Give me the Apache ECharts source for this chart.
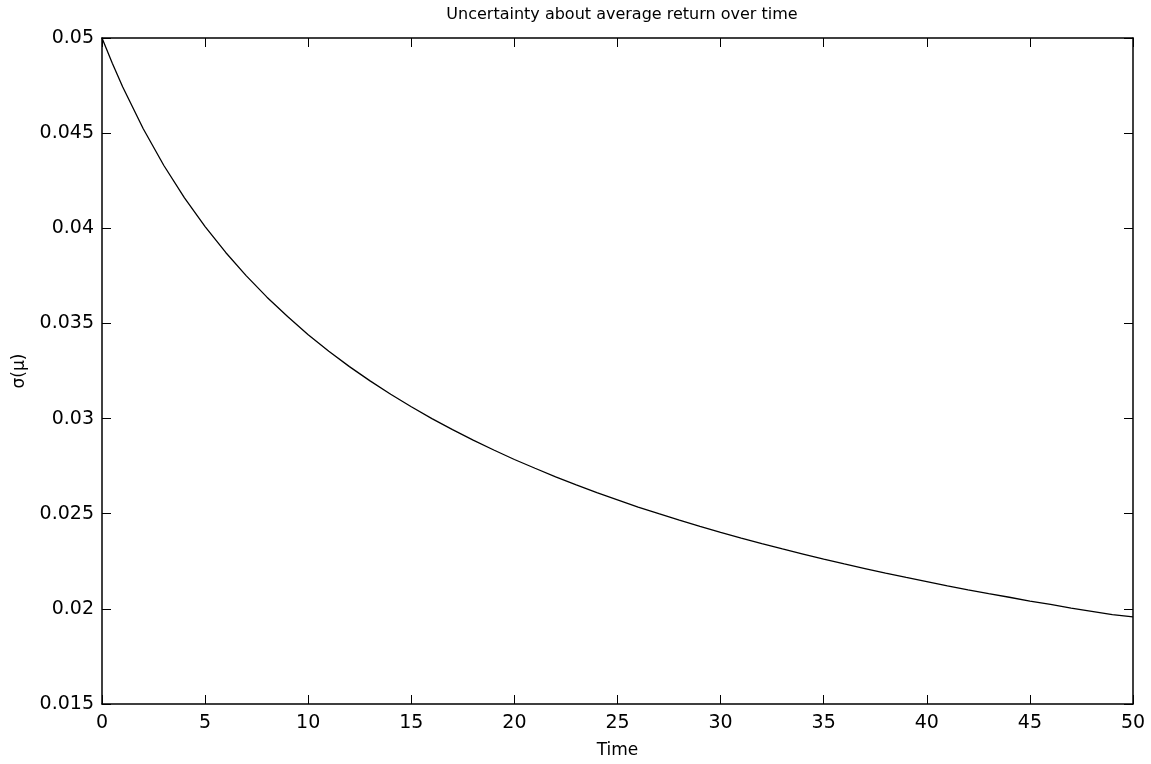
<!DOCTYPE html>
<html>
<head>
<meta charset="utf-8">
<script src="https://cdn.jsdelivr.net/npm/echarts@6/dist/echarts.min.js"></script>
<style>html,body{margin:0;padding:0;background:#fff}#c{width:1151px;height:764px}</style>
</head>
<body>
<div id="c"></div>
<script>
const times = [0,0.5,1,2,3,4,5,6,7,8,9,10,11,12,13,14,15,16,17,18,19,20,21,22,23,24,25,26,27,28,29,30,31,32,33,34,35,36,37,38,39,40,41,42,43,44,45,46,47,48,49,50];
const sigmaMu = [0.05,0.04867,0.04744,0.04523,0.04330,0.04160,0.04009,0.03873,0.03750,0.03638,0.03536,0.03441,0.03354,0.03273,0.03198,0.03128,0.03062,0.03000,0.02942,0.02887,0.02835,0.02785,0.02739,0.02694,0.02652,0.02611,0.02573,0.02535,0.02500,0.02466,0.02433,0.02402,0.02372,0.02343,0.02315,0.02288,0.02261,0.02236,0.02212,0.02188,0.02165,0.02143,0.02121,0.02100,0.02080,0.02061,0.02041,0.02023,0.02004,0.01987,0.01970,0.01958];
const xTicks = [0,5,10,15,20,25,30,35,40,45,50];
const yTicks = [0.015,0.02,0.025,0.03,0.035,0.04,0.045,0.05];

const FONT = '"DejaVu Sans", "Liberation Sans", Arial, sans-serif';
const chart = echarts.init(document.getElementById('c'), null, {renderer:'canvas'});
const axisLine = {show:true, onZero:false, lineStyle:{color:'#000', width:1.5}};
const axisTick = {show:true, inside:true, length:9, lineStyle:{color:'#000', width:1}};
const yFmt = v => { const s = yTicks.find(t => Math.abs(t - v) < 1e-9); return s === undefined ? '' : String(s); };
const xFmt = v => { const s = xTicks.find(t => Math.abs(t - v) < 1e-9); return s === undefined ? '' : String(s); };
chart.setOption({
  animation:false,
  backgroundColor:'#fff',
  title:{text:'Uncertainty about average return over time', left:617, top:2, textAlign:'center',
    textStyle:{fontFamily:FONT, fontSize:16, fontWeight:'normal', color:'#000'}},
  grid:{left:102, right:18, top:38, bottom:49, containLabel:false},
  xAxis:[
    {type:'value', min:0, max:50, interval:5, position:'bottom',
     name:'Time', nameLocation:'middle', nameGap:38,
     nameTextStyle:{fontFamily:FONT, fontSize:17, color:'#000'},
     axisLine, axisTick, splitLine:{show:false},
     axisLabel:{fontFamily:FONT, fontSize:19, color:'#000', margin:10, formatter:xFmt}},
    {type:'value', min:0, max:50, interval:5, position:'top',
     axisLine, axisTick, splitLine:{show:false}, axisLabel:{show:false}}
  ],
  yAxis:[
    {type:'value', min:0.015, max:0.05, interval:0.005, position:'left',
     name:'σ(μ)', nameLocation:'middle', nameGap:74, nameRotate:90,
     nameTextStyle:{fontFamily:FONT, fontSize:17, color:'#000'},
     axisLine, axisTick, splitLine:{show:false},
     axisLabel:{fontFamily:FONT, fontSize:19, color:'#000', margin:8, formatter:yFmt}},
    {type:'value', min:0.015, max:0.05, interval:0.005, position:'right',
     axisLine, axisTick, splitLine:{show:false}, axisLabel:{show:false}}
  ],
  series:[{
    type:'line', xAxisIndex:0, yAxisIndex:0,
    data: times.map((t,i)=>[t, sigmaMu[i]]),
    showSymbol:false, smooth:false, clip:true,
    lineStyle:{color:'#000', width:1.3}
  }]
});
</script>
</body>
</html>
